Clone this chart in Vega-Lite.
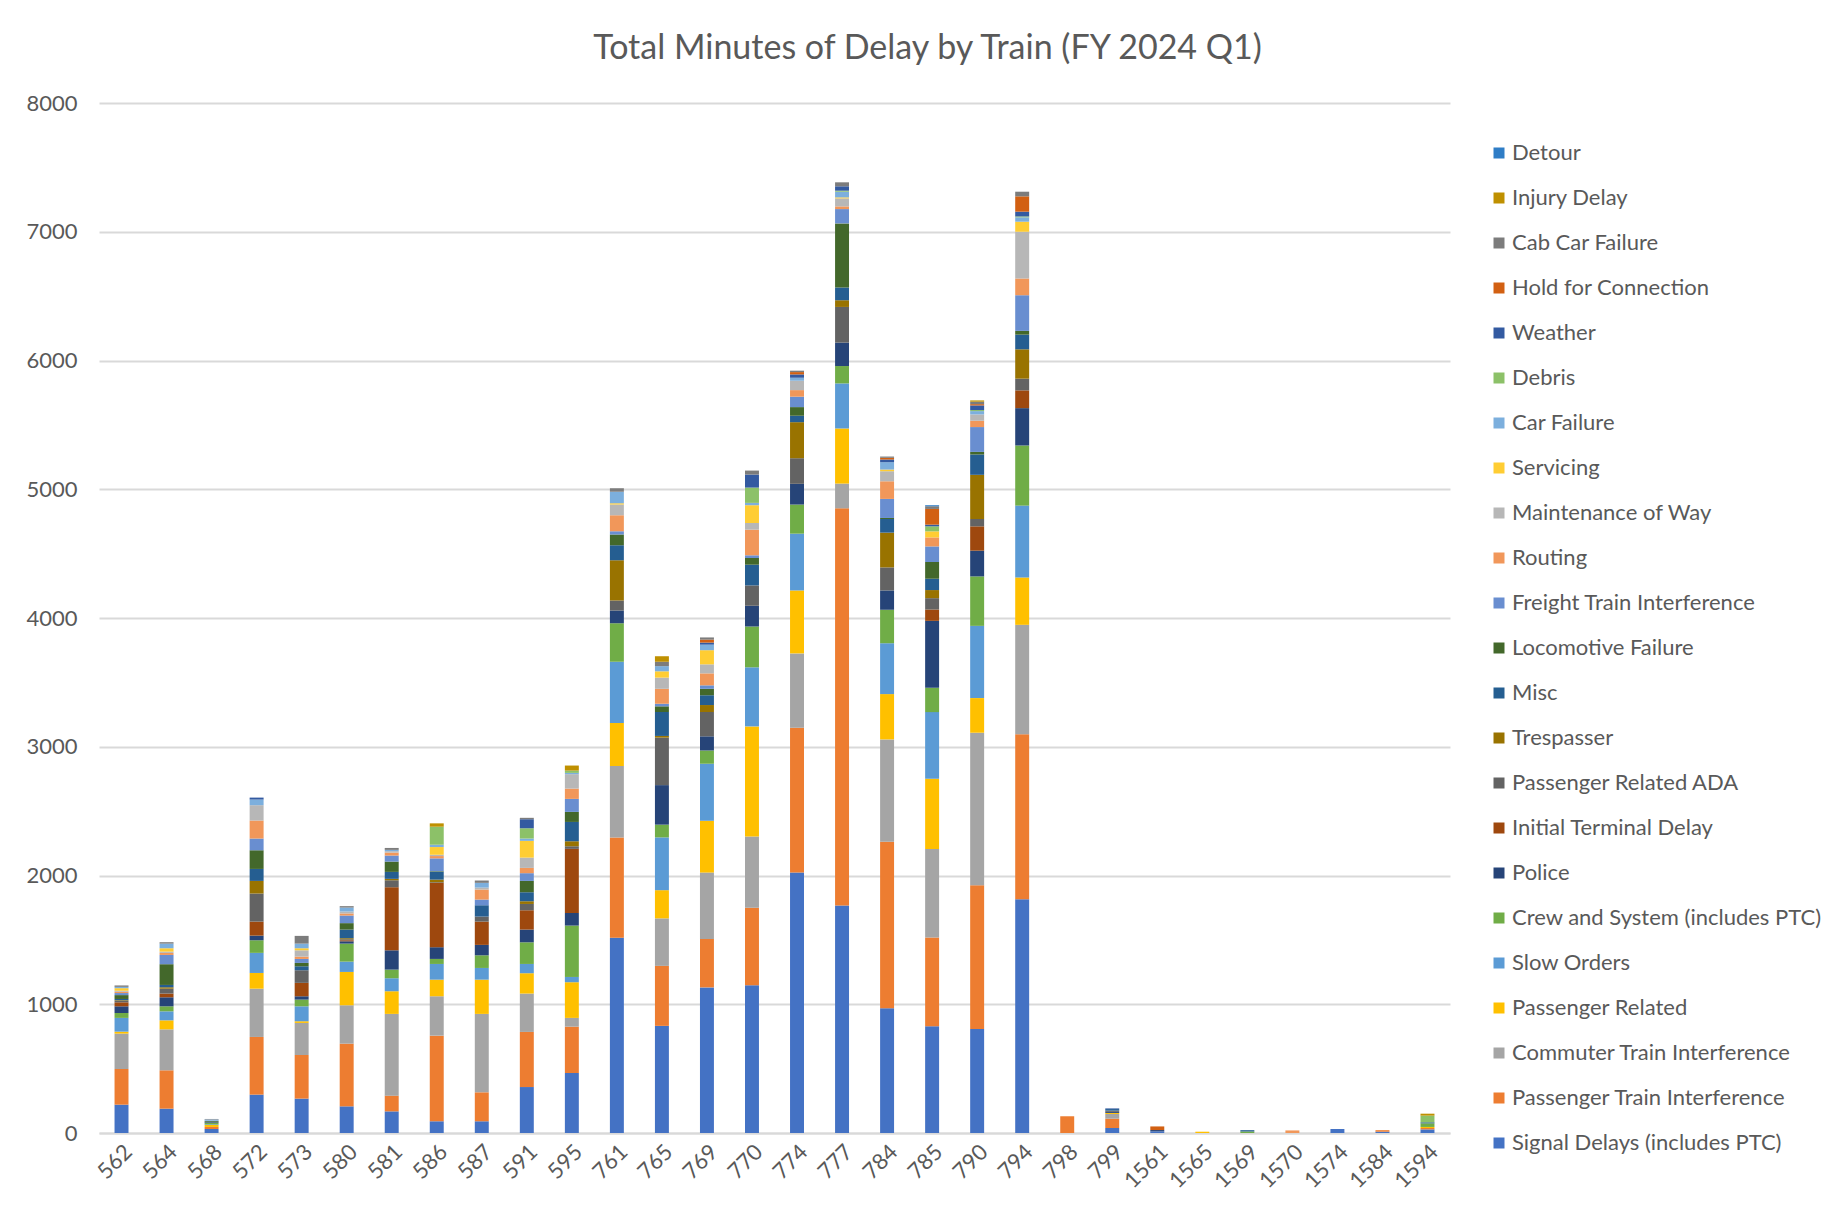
{
  "$schema": "https://vega.github.io/schema/vega-lite/v6.json",
  "width": 1351,
  "height": 1030,
  "autosize": {"type": "none"},
  "padding": {"left": 99, "top": 103, "right": 382, "bottom": 81},
  "background": "white",
  "config": {"view": {"stroke": null}},
  "title": {"text": "Total Minutes of Delay by Train (FY 2024 Q1)", "anchor": "middle", "frame": "group", "dx": 153, "offset": 26, "fontSize": 34, "font": "Lato", "fontWeight": "normal", "color": "#595959"},
  "datasets": {
    "causes": [
      {"code": "SD", "cause": "Signal Delays (includes PTC)", "rank": 1},
      {"code": "PTI", "cause": "Passenger Train Interference", "rank": 2},
      {"code": "CTI", "cause": "Commuter Train Interference", "rank": 3},
      {"code": "PR", "cause": "Passenger Related", "rank": 4},
      {"code": "SO", "cause": "Slow Orders", "rank": 5},
      {"code": "CS", "cause": "Crew and System (includes PTC)", "rank": 6},
      {"code": "PO", "cause": "Police", "rank": 7},
      {"code": "ITD", "cause": "Initial Terminal Delay", "rank": 8},
      {"code": "ADA", "cause": "Passenger Related ADA", "rank": 9},
      {"code": "TR", "cause": "Trespasser", "rank": 10},
      {"code": "MI", "cause": "Misc", "rank": 11},
      {"code": "LF", "cause": "Locomotive Failure", "rank": 12},
      {"code": "FTI", "cause": "Freight Train Interference", "rank": 13},
      {"code": "RO", "cause": "Routing", "rank": 14},
      {"code": "MW", "cause": "Maintenance of Way", "rank": 15},
      {"code": "SV", "cause": "Servicing", "rank": 16},
      {"code": "CF", "cause": "Car Failure", "rank": 17},
      {"code": "DB", "cause": "Debris", "rank": 18},
      {"code": "WE", "cause": "Weather", "rank": 19},
      {"code": "HC", "cause": "Hold for Connection", "rank": 20},
      {"code": "CC", "cause": "Cab Car Failure", "rank": 21},
      {"code": "ID", "cause": "Injury Delay", "rank": 22},
      {"code": "DT", "cause": "Detour", "rank": 23}
    ]
  },
  "data": {"values": [
    {"train": "562", "SD": 220, "PTI": 277, "CTI": 275, "PR": 15, "SO": 107, "CS": 38, "PO": 52, "ITD": 31, "ADA": 11, "TR": 5, "MI": 10, "LF": 30, "FTI": 16, "RO": 10, "MW": 8, "SV": 20, "CF": 10, "CC": 11},
    {"train": "564", "SD": 189, "PTI": 298, "CTI": 318, "PR": 70, "SO": 70, "CS": 39, "PO": 70, "ITD": 29, "ADA": 38, "TR": 11, "MI": 18, "LF": 161, "FTI": 72, "RO": 16, "MW": 10, "SV": 26, "CF": 36, "CC": 11},
    {"train": "568", "SD": 31, "PTI": 16, "PR": 15, "SO": 5, "CS": 12, "PO": 5, "LF": 8, "FTI": 5, "CF": 8, "CC": 4},
    {"train": "572", "SD": 298, "PTI": 448, "CTI": 375, "PR": 122, "SO": 156, "CS": 98, "PO": 36, "ITD": 109, "ADA": 218, "TR": 98, "MI": 93, "LF": 145, "FTI": 91, "RO": 140, "MW": 119, "CF": 44, "WE": 15},
    {"train": "573", "SD": 267, "PTI": 339, "CTI": 249, "PR": 13, "SO": 116, "CS": 52, "PO": 26, "ITD": 104, "ADA": 98, "MI": 31, "LF": 26, "FTI": 31, "RO": 18, "MW": 49, "SV": 16, "CF": 36, "CC": 60},
    {"train": "580", "SD": 207, "PTI": 487, "CTI": 298, "PR": 259, "SO": 80, "CS": 140, "PO": 18, "ITD": 8, "ADA": 8, "TR": 8, "MI": 67, "LF": 50, "FTI": 59, "RO": 16, "MW": 15, "CF": 31, "CC": 11},
    {"train": "581", "SD": 168, "PTI": 122, "CTI": 635, "PR": 176, "SO": 101, "CS": 67, "PO": 150, "ITD": 490, "ADA": 54, "TR": 11, "MI": 54, "LF": 80, "FTI": 47, "RO": 23, "MW": 11, "CF": 10, "CC": 15},
    {"train": "586", "SD": 91, "PTI": 665, "CTI": 306, "PR": 129, "SO": 122, "CS": 39, "PO": 91, "ITD": 500, "ADA": 5, "TR": 20, "MI": 60, "LF": 5, "FTI": 100, "RO": 18, "MW": 10, "SV": 60, "CF": 18, "DB": 140, "ID": 26},
    {"train": "587", "SD": 91, "PTI": 225, "CTI": 609, "PR": 266, "SO": 91, "CS": 98, "PO": 81, "ITD": 181, "ADA": 39, "MI": 88, "FTI": 44, "RO": 78, "MW": 15, "CF": 37, "CC": 18},
    {"train": "591", "SD": 357, "PTI": 428, "CTI": 298, "PR": 158, "SO": 72, "CS": 168, "PO": 99, "ITD": 150, "ADA": 49, "TR": 21, "MI": 70, "LF": 88, "FTI": 60, "RO": 41, "MW": 80, "SV": 130, "CF": 18, "DB": 80, "WE": 70, "CC": 11},
    {"train": "595", "SD": 466, "PTI": 360, "CTI": 68, "PR": 277, "SO": 41, "CS": 399, "PO": 98, "ITD": 498, "ADA": 20, "TR": 39, "MI": 150, "LF": 78, "FTI": 101, "RO": 80, "MW": 112, "CF": 10, "DB": 18, "ID": 39},
    {"train": "761", "SD": 1517, "PTI": 779, "CTI": 555, "PR": 333, "SO": 476, "CS": 299, "PO": 100, "ADA": 76, "TR": 313, "MI": 117, "LF": 83, "FTI": 26, "RO": 124, "MW": 83, "SV": 10, "CF": 89, "CC": 27},
    {"train": "765", "SD": 832, "PTI": 466, "CTI": 369, "PR": 219, "SO": 410, "CS": 99, "PO": 307, "ADA": 369, "TR": 13, "MI": 186, "LF": 44, "FTI": 20, "RO": 116, "MW": 87, "SV": 49, "CF": 40, "CC": 34, "ID": 43},
    {"train": "769", "SD": 1131, "PTI": 376, "CTI": 516, "PR": 402, "SO": 443, "CS": 103, "PO": 110, "ADA": 189, "TR": 54, "MI": 76, "LF": 50, "FTI": 27, "RO": 93, "MW": 70, "SV": 110, "CF": 43, "WE": 16, "HC": 23, "CC": 17},
    {"train": "770", "SD": 1148, "PTI": 601, "CTI": 554, "PR": 855, "SO": 459, "CS": 317, "PO": 161, "ADA": 158, "MI": 161, "LF": 52, "FTI": 21, "RO": 199, "MW": 52, "SV": 138, "CF": 18, "DB": 119, "WE": 101, "CC": 31},
    {"train": "774", "SD": 2023, "PTI": 1125, "CTI": 577, "PR": 489, "SO": 441, "CS": 226, "PO": 161, "ADA": 199, "TR": 280, "MI": 50, "LF": 67, "FTI": 81, "RO": 51, "MW": 73, "CF": 23, "WE": 26, "HC": 18, "CC": 11},
    {"train": "777", "SD": 1767, "PTI": 3085, "CTI": 192, "PR": 428, "SO": 350, "CS": 135, "PO": 182, "ADA": 277, "TR": 52, "MI": 99, "LF": 498, "FTI": 111, "RO": 21, "MW": 62, "SV": 8, "CF": 44, "DB": 8, "WE": 34, "CC": 31},
    {"train": "784", "SD": 969, "PTI": 1293, "CTI": 795, "PR": 352, "SO": 395, "CS": 260, "PO": 150, "ADA": 179, "TR": 270, "MI": 106, "LF": 8, "FTI": 148, "RO": 137, "MW": 78, "SV": 13, "CF": 57, "WE": 21, "HC": 13, "CC": 10},
    {"train": "785", "SD": 829, "PTI": 689, "CTI": 687, "PR": 546, "SO": 518, "CS": 189, "PO": 520, "ITD": 88, "ADA": 88, "TR": 63, "MI": 88, "LF": 130, "FTI": 121, "RO": 70, "SV": 47, "DB": 39, "WE": 13, "HC": 122, "CC": 21, "DT": 8},
    {"train": "790", "SD": 808, "PTI": 1117, "CTI": 1184, "PR": 269, "SO": 561, "CS": 384, "PO": 200, "ITD": 189, "ADA": 57, "TR": 343, "MI": 158, "LF": 20, "FTI": 193, "RO": 49, "MW": 49, "CF": 26, "DB": 8, "WE": 36, "HC": 10, "CC": 19, "ID": 10},
    {"train": "794", "SD": 1816, "PTI": 1282, "CTI": 849, "PR": 368, "SO": 558, "CS": 467, "PO": 290, "ITD": 138, "ADA": 91, "TR": 228, "MI": 114, "LF": 29, "FTI": 277, "RO": 130, "MW": 363, "SV": 78, "CF": 34, "DB": 7, "WE": 37, "HC": 119, "CC": 36},
    {"train": "798", "PTI": 130},
    {"train": "799", "SD": 39, "PTI": 72, "CTI": 37, "PR": 8, "PO": 8, "ADA": 10, "MI": 12, "WE": 5},
    {"train": "1561", "SD": 13, "PO": 10, "HC": 28},
    {"train": "1565", "PR": 10},
    {"train": "1569", "CS": 12, "MI": 10},
    {"train": "1570", "RO": 20},
    {"train": "1574", "SD": 31},
    {"train": "1584", "SD": 10, "PTI": 12},
    {"train": "1594", "SD": 28, "PTI": 11, "PR": 8, "CS": 28, "MI": 8, "DB": 52, "ID": 15}
  ]},
  "transform": [
    {"fold": ["SD", "PTI", "CTI", "PR", "SO", "CS", "PO", "ITD", "ADA", "TR", "MI", "LF", "FTI", "RO", "MW", "SV", "CF", "DB", "WE", "HC", "CC", "ID", "DT"], "as": ["code", "minutes"]},
    {"filter": "datum.minutes > 0"},
    {"lookup": "code", "from": {"data": {"name": "causes"}, "key": "code", "fields": ["cause", "rank"]}}
  ],
  "mark": {"type": "bar"},
  "encoding": {
    "x": {
      "field": "train", "type": "nominal", "sort": null,
      "scale": {"paddingInner": 0.69, "paddingOuter": 0.345},
      "axis": {"title": null, "labelAngle": -45, "labelFontSize": 22, "labelFont": "Lato", "labelColor": "#595959", "ticks": false, "domain": true, "domainColor": "#D9D9D9", "domainWidth": 2, "labelPadding": 8}
    },
    "y": {
      "field": "minutes", "type": "quantitative", "stack": "zero",
      "scale": {"domain": [0, 8000], "nice": false},
      "axis": {"title": null, "values": [0, 1000, 2000, 3000, 4000, 5000, 6000, 7000, 8000], "format": "d", "grid": true, "gridColor": "#D9D9D9", "gridWidth": 2, "domain": false, "ticks": false, "labelFontSize": 22, "labelFont": "Lato", "labelColor": "#595959", "labelPadding": 22}
    },
    "color": {
      "field": "cause", "type": "nominal",
      "scale": {
        "domain": ["Detour", "Injury Delay", "Cab Car Failure", "Hold for Connection", "Weather", "Debris", "Car Failure", "Servicing", "Maintenance of Way", "Routing", "Freight Train Interference", "Locomotive Failure", "Misc", "Trespasser", "Passenger Related ADA", "Initial Terminal Delay", "Police", "Crew and System (includes PTC)", "Slow Orders", "Passenger Related", "Commuter Train Interference", "Passenger Train Interference", "Signal Delays (includes PTC)"],
        "range": ["#2F7DC6", "#BF9000", "#7C7C7C", "#D26012", "#335AA1", "#8CC168", "#7CAFDD", "#FFCD33", "#B7B7B7", "#F1975A", "#698ED0", "#43682B", "#255E91", "#997300", "#636363", "#9E480E", "#264478", "#70AD47", "#5B9BD5", "#FFC000", "#A5A5A5", "#ED7D31", "#4472C4"]
      },
      "legend": {"title": null, "orient": "none", "legendX": 1389, "legendY": 39, "direction": "vertical", "padding": 0, "symbolType": "square", "symbolSize": 121, "symbolStrokeWidth": 0, "labelFontSize": 22, "labelFont": "Lato", "labelColor": "#595959", "rowPadding": 23, "labelOffset": 2, "labelLimit": 420}
    },
    "order": {"field": "rank", "type": "quantitative", "sort": "ascending"}
  }
}
